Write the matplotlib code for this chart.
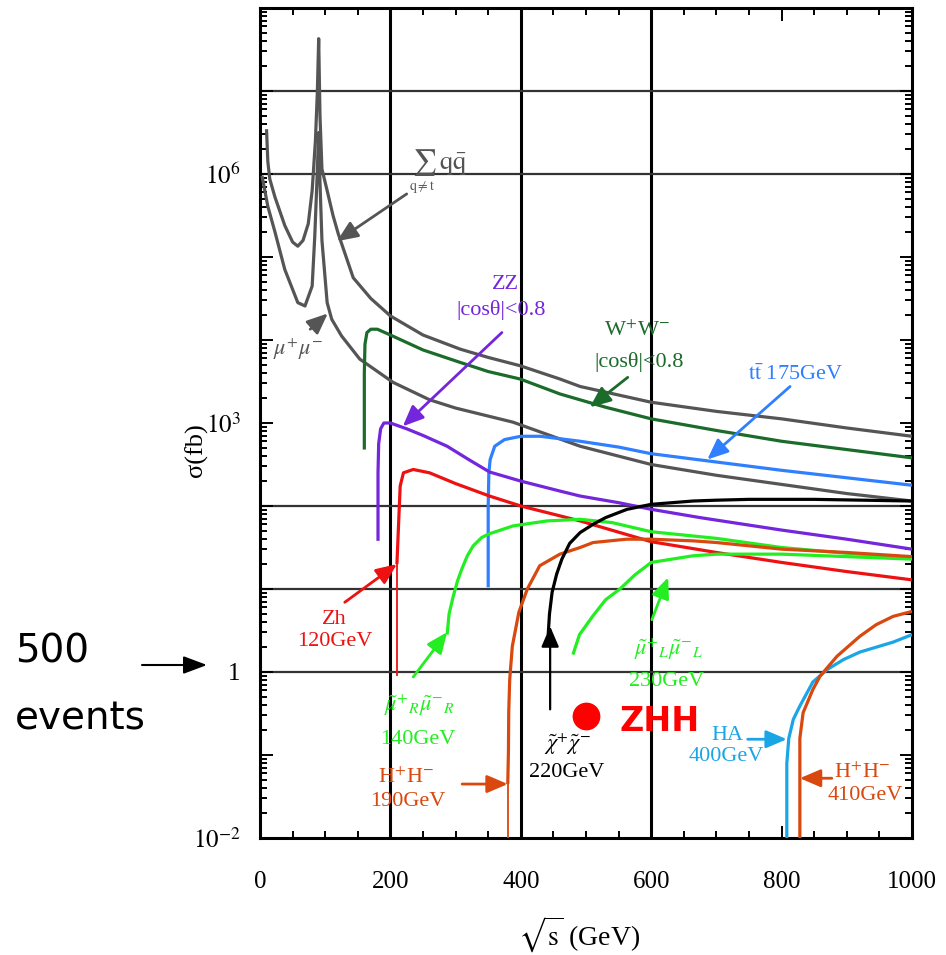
import matplotlib
matplotlib.use("Agg")
import numpy as np
import matplotlib.pyplot as plt
from matplotlib.ticker import LogLocator, MultipleLocator, FuncFormatter, NullFormatter

plt.rcParams['font.family'] = ['Liberation Serif', 'DejaVu Serif']
plt.rcParams['mathtext.fontset'] = 'stix'

# sqrt(s) [GeV] and log10(sigma / fb) for each process
qq_x  = [10, 12, 15, 23, 38, 50, 58, 66, 74, 80, 85, 88, 90, 92, 95, 103, 112, 120, 143, 170, 200, 250, 307, 350, 399, 460, 491, 600, 700, 800, 900, 1000]
qq_lg = [6.54, 6.15, 5.94, 5.72, 5.38, 5.18, 5.13, 5.2, 5.4, 5.8, 6.4, 7.0, 7.63, 6.7, 6.06, 5.8, 5.5, 5.28, 4.75, 4.5, 4.29, 4.06, 3.89, 3.79, 3.69, 3.53, 3.44, 3.25, 3.14, 3.05, 2.94, 2.84]

mm_x  = [3, 12, 23, 38, 58, 69, 80, 84, 87, 90, 92, 95, 103, 110, 125, 153, 204, 260, 300, 388, 491, 600, 700, 800, 900, 1000]
mm_lg = [5.98, 5.61, 5.30, 4.85, 4.45, 4.41, 4.65, 5.25, 5.85, 6.5, 5.9, 5.2, 4.45, 4.25, 4.05, 3.77, 3.49, 3.28, 3.18, 3.01, 2.72, 2.50, 2.37, 2.26, 2.15, 2.06]

ww_x  = [160, 160, 161, 164, 170, 180, 200, 250, 307, 350, 399, 460, 530, 600, 700, 800, 900, 1000]
ww_lg = [2.68, 3.6, 3.95, 4.09, 4.13, 4.13, 4.06, 3.88, 3.73, 3.62, 3.53, 3.35, 3.19, 3.05, 2.91, 2.78, 2.68, 2.58]

zz_x  = [181, 181, 182, 185, 190, 200, 225, 250, 287, 320, 352, 400, 460, 491, 550, 600, 675, 800, 900, 1000]
zz_lg = [1.58, 2.4, 2.75, 2.93, 3.0, 3.0, 2.93, 2.85, 2.72, 2.56, 2.41, 2.3, 2.18, 2.12, 2.04, 1.96, 1.86, 1.71, 1.6, 1.48]

zh_x  = [210, 210, 212, 215, 220, 235, 260, 300, 352, 400, 491, 600, 700, 800, 900, 1000]
zh_lg = [-0.05, 1.3, 1.68, 2.24, 2.40, 2.44, 2.40, 2.27, 2.12, 2.0, 1.82, 1.57, 1.44, 1.32, 1.21, 1.11]

tt_x  = [350, 350, 351, 353, 360, 375, 400, 430, 491, 550, 600, 700, 800, 900, 1000]
tt_lg = [1.02, 2.0, 2.4, 2.56, 2.72, 2.80, 2.84, 2.84, 2.78, 2.71, 2.63, 2.53, 2.43, 2.34, 2.25]

chi_x  = [442, 444, 448, 455, 463, 475, 491, 511, 530, 563, 600, 664, 700, 750, 850, 1000]
chi_lg = [0.45, 0.7, 0.96, 1.18, 1.36, 1.55, 1.68, 1.78, 1.86, 1.96, 2.02, 2.06, 2.07, 2.08, 2.08, 2.06]

smr_x  = [287, 290, 296, 303, 310, 318, 327, 340, 350, 388, 440, 491, 540, 600, 675, 700, 800, 900, 1000]
smr_lg = [0.45, 0.7, 0.9, 1.1, 1.25, 1.4, 1.52, 1.62, 1.66, 1.76, 1.82, 1.84, 1.8, 1.69, 1.63, 1.61, 1.50, 1.43, 1.37]

sml_x  = [480, 490, 511, 530, 552, 575, 600, 664, 700, 800, 900, 1000]
sml_lg = [0.21, 0.45, 0.68, 0.87, 1.0, 1.17, 1.32, 1.40, 1.42, 1.42, 1.39, 1.36]

hh190_x  = [380, 380, 381, 381.5, 383, 387, 397, 410, 429, 460, 491, 511, 562, 600, 664, 700, 800, 900, 1000]
hh190_lg = [-2, -1.35, -0.97, -0.48, -0.09, 0.31, 0.72, 1.0, 1.28, 1.42, 1.5, 1.56, 1.60, 1.60, 1.58, 1.56, 1.48, 1.44, 1.39]

ha_x  = [808, 808, 811, 818, 828, 848, 870, 895, 920, 971, 1000]
ha_lg = [-2, -1.1, -0.8, -0.57, -0.41, -0.12, 0.03, 0.15, 0.24, 0.36, 0.45]

hh410_x  = [828, 828, 833, 848, 859, 885, 920, 945, 971, 1000]
hh410_lg = [-2, -0.8, -0.49, -0.21, -0.05, 0.19, 0.43, 0.57, 0.67, 0.73]

zhh_x, zhh_lg = 500, -0.53

GRAY = '#555555'
DKGREEN = '#1b6b2b'
PURPLE = '#7326dc'
RED = '#ee1111'
BLUE = '#2f7fff'
LIME = '#22ee22'
ORANGE = '#d9480f'
CYAN = '#1aa6e6'

fig = plt.figure(figsize=(9.46, 9.55), dpi=100)
ax = fig.add_axes([260 / 946, 1 - 838 / 955, 652 / 946, 830 / 955])
ax.set_yscale('log')
ax.set_xlim(0, 1000)
ax.set_ylim(1e-2, 1e8)

# grid
for gx in (200, 400, 600):
    ax.axvline(gx, color='black', lw=2.2, zorder=1)
for gy in (1, 10, 100, 1e6, 1e7):
    ax.axhline(gy, color='#333333', lw=1.6, zorder=1)


def curve(xs, lg, color, lw=2.3, **kw):
    ax.plot(xs, 10 ** np.asarray(lg, dtype=float), color=color, lw=lw,
            solid_capstyle='butt', solid_joinstyle='round', zorder=3, **kw)


curve(qq_x, qq_lg, GRAY)
curve(mm_x, mm_lg, GRAY)
curve(ww_x, ww_lg, DKGREEN)
curve(tt_x, tt_lg, BLUE)
curve(zz_x, zz_lg, PURPLE)
curve(zh_x[:2], zh_lg[:2], RED, lw=1.3)
curve(zh_x[1:], zh_lg[1:], RED)
curve(smr_x, smr_lg, LIME)
curve(sml_x, sml_lg, LIME)
curve(hh190_x[:2], hh190_lg[:2], ORANGE, lw=1.3)
curve(hh190_x[1:], hh190_lg[1:], ORANGE)
curve(chi_x, chi_lg, 'black')
curve(ha_x, ha_lg, CYAN)
curve(hh410_x, hh410_lg, ORANGE)

ax.plot([zhh_x], [10 ** zhh_lg], 'o', color='#ff0000', ms=19, zorder=4)


def label(x, e, text, color, size=16, **kw):
    ax.text(x, 10 ** e, text, color=color, fontsize=size, ha='center', va='center', zorder=5, **kw)


def arrow(x0, e0, x1, e1, color, lw=2.0):
    ax.annotate('', xy=(x1, 10 ** e1), xytext=(x0, 10 ** e0),
                arrowprops=dict(arrowstyle='-|>,head_length=0.7,head_width=0.3',
                                mutation_scale=18, color=color, lw=lw,
                                shrinkA=0, shrinkB=0), zorder=5)


label(276, 6.14, r'$\sum\,\mathrm{q}\bar{\mathrm{q}}$', GRAY, size=19)
label(248, 5.84, r'$\mathrm{q}\neq\mathrm{t}$', GRAY, size=10)
arrow(225, 5.76, 118, 5.19, GRAY)

label(58, 3.89, r'$\mu^{+}\mu^{-}$', GRAY)
arrow(77, 4.13, 104, 4.32, GRAY)

label(376, 4.67, 'ZZ', PURPLE)
label(370, 4.36, '|cosθ|<0.8', PURPLE)
arrow(371, 4.09, 219, 2.96, PURPLE)

label(578, 4.11, r'W$^{+}$W$^{-}$', DKGREEN)
label(581, 3.73, '|cosθ|<0.8', DKGREEN)
arrow(564, 3.55, 506, 3.19, DKGREEN)

label(822, 3.59, r'$\mathrm{t\bar{t}}$ 175GeV', BLUE)
arrow(813, 3.44, 686, 2.56, BLUE)

label(114, 0.63, 'Zh', RED)
label(115, 0.37, '120GeV', RED)
arrow(130, 0.84, 210, 1.30, RED)

label(244, -0.40, r'$\tilde{\mu}^{+}{}_{R}\tilde{\mu}^{-}{}_{R}$', LIME)
label(242, -0.81, '140GeV', LIME)
arrow(235, -0.06, 287, 0.48, LIME)

label(224, -1.28, r'H$^{+}$H$^{-}$', ORANGE)
label(227, -1.56, '190GeV', ORANGE)
arrow(310, -1.35, 380, -1.35, ORANGE)

label(471, -0.87, r'$\tilde{\chi}^{+}\tilde{\chi}^{-}$', 'black')
label(471, -1.21, '220GeV', 'black')
arrow(445, -0.45, 445, 0.55, 'black', lw=1.6)

label(626, 0.27, r'$\tilde{\mu}^{+}{}_{L}\tilde{\mu}^{-}{}_{L}$', LIME)
label(624, -0.12, '230GeV', LIME)
arrow(601, 0.63, 626, 1.14, LIME)

label(717, -0.76, 'HA', CYAN)
label(715, -1.02, '400GeV', CYAN)
arrow(748, -0.81, 808, -0.81, CYAN)

label(923, -1.21, r'H$^{+}$H$^{-}$', ORANGE)
label(928, -1.49, '410GeV', ORANGE)
arrow(877, -1.28, 828, -1.28, ORANGE)

ax.text(552, 10 ** -0.6, 'ZHH', color='#ff0000', fontsize=24, fontweight='bold',
        family='DejaVu Sans', ha='left', va='center', zorder=5)

# axes styling
ax.xaxis.set_major_locator(MultipleLocator(200))
ax.xaxis.set_minor_locator(MultipleLocator(50))
ax.yaxis.set_major_locator(LogLocator(base=10, numticks=20))
ax.yaxis.set_minor_locator(LogLocator(base=10, subs=np.arange(2, 10), numticks=20))
ax.yaxis.set_minor_formatter(NullFormatter())

shown = {6: r'$10^{6}$', 3: r'$10^{3}$', 0: '1', -2: r'$10^{-2}$'}
ax.yaxis.set_major_formatter(FuncFormatter(
    lambda v, pos: shown.get(int(round(np.log10(v))), '')))

ax.tick_params(which='both', direction='in', top=True, right=True, width=1.4)
ax.tick_params(which='major', length=9, labelsize=18)
ax.tick_params(which='minor', length=5)
ax.tick_params(axis='x', which='major', pad=24)
ax.tick_params(axis='y', which='major', pad=14)
for s in ax.spines.values():
    s.set_linewidth(2.2)

ax.set_xlabel(r'$\sqrt{\mathrm{s}}$ (GeV)', fontsize=20, va='center')
ax.xaxis.set_label_coords(0.49, -0.117)
ax.set_ylabel('σ(fb)', fontsize=19, va='center')
ax.yaxis.set_label_coords(-0.097, 0.467)

# luminosity reference on the left
fig.text(15 / 946, 1 - 651 / 955, '500', fontsize=28, family='DejaVu Sans', ha='left', va='center')
fig.text(15 / 946, 1 - 718 / 955, 'events', fontsize=28, family='DejaVu Sans', ha='left', va='center')
ax.annotate('', xy=(207, 955 - 665), xytext=(142, 955 - 665), xycoords='figure pixels',
            textcoords='figure pixels', annotation_clip=False,
            arrowprops=dict(arrowstyle='-|>,head_length=0.8,head_width=0.3',
                            mutation_scale=18, color='black', lw=1.5,
                            shrinkA=0, shrinkB=0))

fig.savefig('out.png', dpi=100)
